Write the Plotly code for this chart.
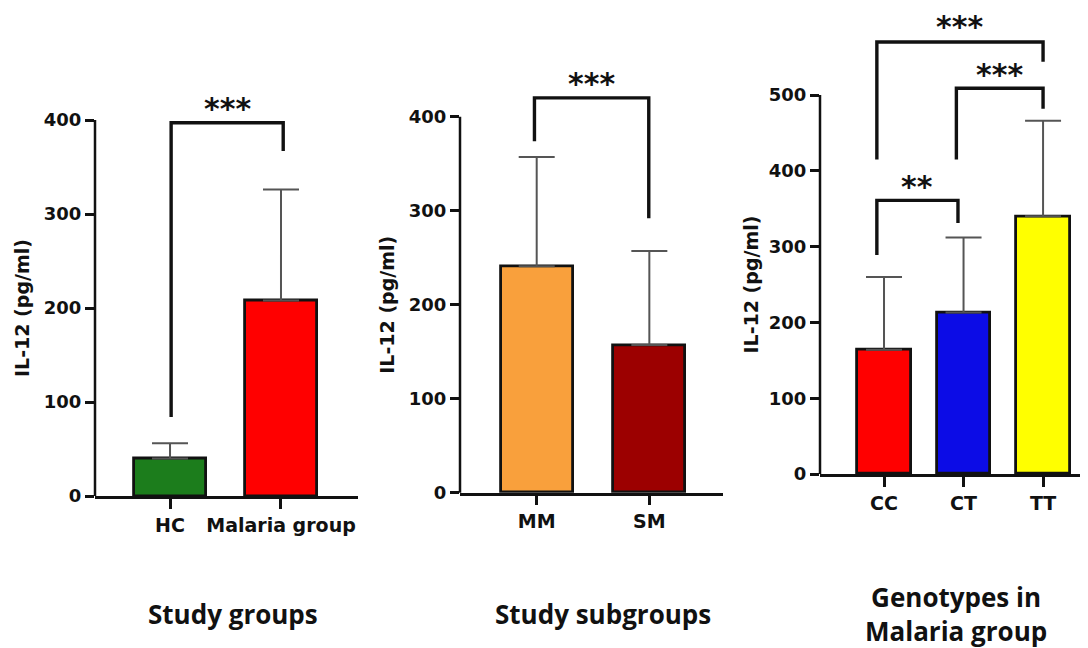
import plotly.graph_objects as go

# the page body adds an 8px margin, so the figure is drawn 8px smaller and shifted
OFF = 8
W, H = 1088 - OFF, 648 - OFF

# ---------------- data ----------------
groups_cats = ["HC", "Malaria group"]
groups_means = [40, 208]
groups_sd = [16, 118]
groups_colors = ["#1c7d1c", "#ff0000"]

subgroups_cats = ["MM", "SM"]
subgroups_means = [241, 157]
subgroups_sd = [116, 100]
subgroups_colors = ["#f9a03c", "#9c0000"]

geno_cats = ["CC", "CT", "TT"]
geno_means = [164, 213, 340]
geno_sd = [96, 99, 126]
geno_colors = ["#ff0000", "#0c0ce6", "#ffff00"]

y_ticks_1 = [0, 100, 200, 300, 400]
y_ticks_2 = [0, 100, 200, 300, 400]
y_ticks_3 = [0, 100, 200, 300, 400, 500]

# significance brackets: (x_left, x_right, y_left_end, y_top, y_right_end, label, label_y)
brackets_1 = [(0.01, 1.02, 84, 397, 367, "***", 418)]
brackets_2 = [(-0.02, 0.995, 374, 420, 292, "***", 441)]
brackets_3 = [
    (-0.09, 0.93, 289, 361, 331, "**", 386),
    (0.91, 2.0, 415, 509, 482, "***", 533),
    (-0.09, 2.0, 415, 570, 544, "***", 597),
]

bottom_titles = ["Study groups", "Study subgroups", "Genotypes in<br>Malaria group"]
y_title = "IL-12 (pg/ml)"

# ---------------- layout config (reference pixels) ----------------
panels = [
    dict(cats=groups_cats, means=groups_means, sd=groups_sd, colors=groups_colors,
         yt=y_ticks_1, br=brackets_1, xpx=(95, 358), y0=496, scale=0.94, ytop=440,
         xr=[-0.676, 1.694], bw=0.65, title_shift=-73),
    dict(cats=subgroups_cats, means=subgroups_means, sd=subgroups_sd, colors=subgroups_colors,
         yt=y_ticks_2, br=brackets_2, xpx=(460, 723), y0=492.7, scale=0.94, ytop=460,
         xr=[-0.681, 1.654], bw=0.64, title_shift=-73),
    dict(cats=geno_cats, means=geno_means, sd=geno_sd, colors=geno_colors,
         yt=y_ticks_3, br=brackets_3, xpx=(820, 1086), y0=474, scale=0.758, ytop=610,
         xr=[-0.805, 2.54], bw=0.67, title_shift=-70),
]

fig = go.Figure()
TICK_FONT = dict(family="DejaVu Sans, sans-serif", size=18, color="#111", weight="bold")
LAB_FONT = dict(family="DejaVu Sans, sans-serif", size=19, color="#111", weight="bold")
STAR_FONT = dict(family="DejaVu Sans, sans-serif", size=30, color="#111", weight="bold")
annotations = []
shapes = []

for i, p in enumerate(panels, start=1):
    xa = "x" if i == 1 else f"x{i}"
    ya = "y" if i == 1 else f"y{i}"
    n = len(p["cats"])
    xs = list(range(n))
    fig.add_trace(go.Bar(
        x=xs, y=p["means"], width=p["bw"],
        marker=dict(color=p["colors"], line=dict(color="#111", width=2.8)),
        error_y=dict(type="data", array=p["sd"], arrayminus=[0] * n, symmetric=False,
                     color="#555", thickness=2, width=18),
        xaxis=xa, yaxis=ya, showlegend=False, hoverinfo="skip",
    ))
    for (xl, xr_, yl, yt_, yr, lab, ly) in p["br"]:
        fig.add_trace(go.Scatter(
            x=[xl, xl, xr_, xr_], y=[yl, yt_, yt_, yr], mode="lines",
            line=dict(color="#111", width=3.4), xaxis=xa, yaxis=ya,
            showlegend=False, hoverinfo="skip",
        ))
        annotations.append(dict(
            x=(xl + xr_) / 2, y=ly, xref=xa, yref=ya, text=lab, showarrow=False,
            font=STAR_FONT, xanchor="center", yanchor="middle", yshift=-5,
        ))
    x0, x1 = p["xpx"]
    y0 = p["y0"] - OFF
    y_bot = 1 - y0 / H
    y_top = 1 - (y0 - p["ytop"] * p["scale"]) / H
    xkey = "xaxis" if i == 1 else f"xaxis{i}"
    ykey = "yaxis" if i == 1 else f"yaxis{i}"
    fig.update_layout({
        xkey: dict(domain=[(x0 - OFF) / W, min(1.0, (x1 - OFF) / W)], range=p["xr"], anchor=ya,
                   showline=True, linecolor="#111", linewidth=2.5,
                   ticks="outside", ticklen=10, tickwidth=2.5, tickcolor="#111",
                   tickvals=xs, ticktext=p["cats"], tickfont=LAB_FONT,
                   showgrid=False, zeroline=False, automargin=False, fixedrange=True),
        ykey: dict(domain=[y_bot, min(1.0, y_top)], range=[0, p["ytop"]], anchor=xa,
                   showline=False, ticks="outside", ticklen=9, tickwidth=2.5, tickcolor="#111",
                   tickvals=p["yt"], tickfont=TICK_FONT,
                   showgrid=False, zeroline=False, automargin=False, fixedrange=True),
    })
    shapes.append(dict(type="line", xref=f"{xa} domain", yref=f"{ya} domain",
                       x0=0, x1=0, y0=0, y1=max(p["yt"]) / p["ytop"],
                       line=dict(color="#111", width=2.5)))
    annotations.append(dict(
        x=0, xref=f"{xa} domain", xshift=p["title_shift"], y=max(p["yt"]) / 2, yref=ya,
        text=y_title, textangle=-90, showarrow=False, xanchor="center", yanchor="middle",
        font=LAB_FONT,
    ))

bottom_px = [(233, 614), (603, 614), (956, 614)]
for t, (bx, by) in zip(bottom_titles, bottom_px):
    annotations.append(dict(
        x=(bx - OFF) / W, y=1 - (by - OFF) / H, xref="paper", yref="paper", text=t,
        showarrow=False, xanchor="center", yanchor="middle",
        font=dict(family="Open Sans, sans-serif", size=26, color="#111", weight="bold"),
    ))

fig.update_layout(
    width=W, height=H, margin=dict(l=0, r=0, t=0, b=0),
    paper_bgcolor="white", plot_bgcolor="white",
    annotations=annotations, shapes=shapes, bargap=0,
)

fig.write_html("out.html")
